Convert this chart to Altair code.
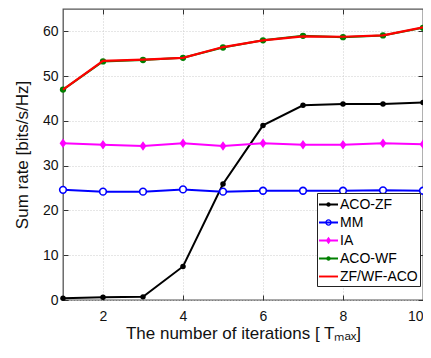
import altair as alt
import pandas as pd

FONT = "Liberation Sans"

iterations = [1, 2, 3, 4, 5, 6, 7, 8, 9, 10]
series_names = ["ACO-ZF", "MM", "IA", "ACO-WF", "ZF/WF-ACO"]
series_colors = ["#000000", "#0000FF", "#FF00FF", "#008000", "#FF0000"]
aco_zf = [0.4, 0.6, 0.7, 7.5, 25.9, 39.0, 43.5, 43.8, 43.8, 44.1]
mm = [24.6, 24.2, 24.2, 24.7, 24.2, 24.4, 24.4, 24.4, 24.5, 24.4]
ia = [35.0, 34.7, 34.4, 35.0, 34.4, 35.0, 34.7, 34.7, 35.0, 34.8]
aco_wf = [47.0, 53.3, 53.6, 54.1, 56.4, 58.0, 59.0, 58.7, 59.1, 60.8]
zf_wf_aco = [47.0, 53.4, 53.7, 54.1, 56.5, 58.0, 58.9, 58.8, 59.1, 60.9]
x_ticks = [2, 4, 6, 8, 10]
y_ticks = [0, 10, 20, 30, 40, 50, 60]

rows = []
for name, vals in zip(series_names, [aco_zf, mm, ia, aco_wf, zf_wf_aco]):
    for it, v in zip(iterations, vals):
        rows.append({"series": name, "iter": it, "rate": v})
df = pd.DataFrame(rows)

xscale = alt.Scale(domain=[1, 10], nice=False, zero=False)
yscale = alt.Scale(domain=[0, 65], nice=False, zero=False)
cscale = alt.Scale(domain=series_names, range=series_colors)

common_axis = dict(
    tickSize=5, offset=-5, domain=False, tickColor="#333", tickWidth=1,
    labelFont=FONT, labelFontSize=14, labelColor="#111",
    titleFont=FONT, titleFontSize=17, titleFontWeight="normal", titleColor="#111",
    gridColor="#cccccc", gridDash=[1, 2], gridWidth=1,
)

x_main = alt.X("iter:Q", scale=xscale, axis=alt.Axis(
    orient="bottom", values=x_ticks, title="The number of iterations [ Tₘₐₓ]",
    grid=True, labelPadding=9, titlePadding=2, labelFlush=True, **common_axis))
y_main = alt.Y("rate:Q", scale=yscale, axis=alt.Axis(
    orient="left", values=y_ticks, title="Sum rate [bits/s/Hz]",
    grid=True, labelPadding=5, titlePadding=11, **common_axis))
x_none = alt.X("iter:Q", scale=xscale, axis=None)
y_none = alt.Y("rate:Q", scale=yscale, axis=None)
x_top = alt.X("iter:Q", scale=xscale, axis=alt.Axis(
    orient="top", values=x_ticks, labels=False, title=None, grid=False, **common_axis))
y_right = alt.Y("rate:Q", scale=yscale, axis=alt.Axis(
    orient="right", values=y_ticks, labels=False, title=None, grid=False, **common_axis))

color_nol = alt.Color("series:N", scale=cscale, legend=None)


def sub(name):
    return alt.Chart(df).transform_filter(alt.datum.series == name)


l_acozf = sub("ACO-ZF").mark_line(strokeWidth=2).encode(x=x_main, y=y_main, color=color_nol)
p_acozf = sub("ACO-ZF").mark_point(shape="circle", filled=True, size=30, opacity=1).encode(
    x=x_none, y=y_none, color=color_nol)
l_mm = sub("MM").mark_line(strokeWidth=2).encode(x=x_none, y=y_none, color=color_nol)
p_mm = sub("MM").mark_point(shape="circle", filled=False, fill="white", size=45,
                            strokeWidth=1.6, opacity=1).encode(x=x_none, y=y_none, color=color_nol)
l_ia = sub("IA").mark_line(strokeWidth=2).encode(x=x_none, y=y_none, color=color_nol)
p_ia = sub("IA").mark_point(shape="M0,-1L0.72,0L0,1L-0.72,0Z", filled=True, size=90,
                            opacity=1).encode(x=x_none, y=y_none, color=color_nol)
l_acowf = sub("ACO-WF").mark_line(strokeWidth=2).encode(x=x_none, y=y_none, color=color_nol)
p_acowf = sub("ACO-WF").mark_point(shape="circle", filled=True, size=40, opacity=1).encode(
    x=x_none, y=y_none, color=color_nol)
l_zfwf = sub("ZF/WF-ACO").mark_line(strokeWidth=2.2).encode(x=x_none, y=y_none, color=color_nol)

bar = "M-1,-0.1L1,-0.1L1,0.1L-1,0.1Z"


def disc(r):
    return f"M{r},0A{r},{r},0,1,1,{-r},0A{r},{r},0,1,1,{r},0Z"


def hole(r):
    return f"M{r},0A{r},{r},0,1,0,{-r},0A{r},{r},0,1,0,{r},0Z"


legend_shapes = [
    bar + disc(0.24),
    bar + disc(0.34) + hole(0.2),
    bar + "M0,-0.4L0.28,0L0,0.4L-0.28,0Z",
    bar + disc(0.24),
    bar,
]

legend_def = alt.Legend(
    title=None, orient="none", legendX=254, legendY=184, fillColor="white",
    strokeColor="#222", padding=2, symbolSize=361, rowPadding=1,
    labelFont=FONT, labelFontSize=14, labelColor="#000", labelOffset=2,
    symbolStrokeWidth=0, symbolOpacity=1,
)

leg = alt.Chart(df).mark_point(filled=True, size=0).encode(
    x=x_top, y=y_right,
    color=alt.Color("series:N", scale=cscale, legend=legend_def),
    shape=alt.Shape("series:N", scale=alt.Scale(domain=series_names, range=legend_shapes),
                    legend=legend_def),
)

chart = alt.layer(
    l_acozf, p_acozf, l_mm, p_mm, l_ia, p_ia, l_acowf, p_acowf, l_zfwf, leg
).resolve_axis(x="independent", y="independent").resolve_legend(
    color="independent", shape="independent"
).properties(
    width=360, height=291,
    padding={"left": 55, "top": 1, "right": 0, "bottom": 45},
    autosize=alt.AutoSizeParams(type="none"),
).configure_view(stroke="#555", strokeWidth=1.3)

chart.save("out.html", embed_options={"renderer": "svg", "actions": False})
